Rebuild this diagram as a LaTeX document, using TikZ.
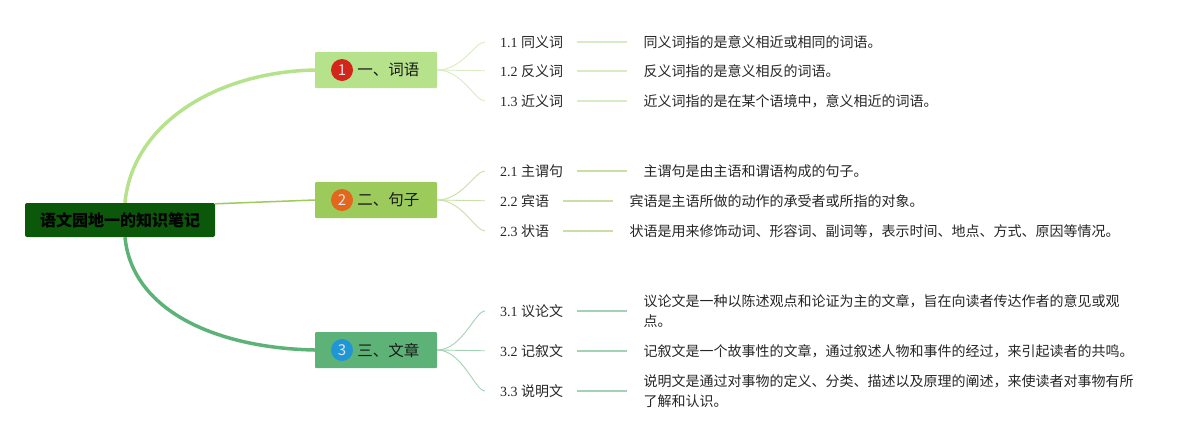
\documentclass[tikz,border=0pt]{standalone}
\usepackage{fontspec}
\setmainfont{Liberation Serif}
\newfontfamily\cjk{Noto Sans CJK SC}
\usetikzlibrary{positioning}
\definecolor{deep}{HTML}{0B580B}
\definecolor{pea}{HTML}{B6E28B}
\definecolor{peapale}{HTML}{D9EBC2}
\definecolor{moss}{HTML}{9CCB5C}
\definecolor{mosspale}{HTML}{C9DFA3}
\definecolor{jade}{HTML}{5DB377}
\definecolor{jadepale}{HTML}{A3D2B3}
\definecolor{dotred}{HTML}{D2261A}
\definecolor{dotorange}{HTML}{E2661C}
\definecolor{dotblue}{HTML}{2196D6}
\tikzset{
  rootbox/.style={fill=deep,rounded corners=2pt,minimum width=190pt,minimum height=34pt,
    font=\fontsize{16}{18}\selectfont\cjk\bfseries,text=black},
  branchbox/.style={rounded corners=1pt,minimum width=122pt,minimum height=36pt},
  numdot/.style={circle,minimum size=22pt,inner sep=0pt,text=white!90!black,
    font=\fontsize{15}{18}\selectfont\cjk},
  branchtext/.style={inner sep=0pt,font=\fontsize{15.5}{18}\selectfont\cjk,text=black!90},
  leaflabel/.style={inner sep=0pt,anchor=west,font=\fontsize{14}{17}\selectfont,text=black!85},
  leafdesc/.style={inner sep=0pt,anchor=west,align=left,right=80pt of #1,
    font=\fontsize{14}{20.5}\selectfont\cjk,text=black!85},
  twig/.style={line width=0.9pt,shorten >=15pt},
  stem/.style={line width=1.2pt,shorten <=14pt,shorten >=16pt}
}
\begin{document}
\begin{tikzpicture}[x=1pt,y=-1pt]
\useasboundingbox (0,0) rectangle (1204,440);
% the root
\node[rootbox] (root) at (120,220) {语文园地一的知识笔记};
% the three branches
\node[branchbox,fill=pea] (b1) at (376,70) {};
\node[numdot,fill=dotred] (n1) at ([xshift=-34pt]b1.center) {1};
\node[branchtext,right=4pt of n1] (t1) {一、词语};
\node[branchbox,fill=moss] (b2) at (376,200) {};
\node[numdot,fill=dotorange] (n2) at ([xshift=-34pt]b2.center) {2};
\node[branchtext,right=4pt of n2] (t2) {二、句子};
\node[branchbox,fill=jade] (b3) at (376,350) {};
\node[numdot,fill=dotblue] (n3) at ([xshift=-34pt]b3.center) {3};
\node[branchtext,right=4pt of n3] (t3) {三、文章};
\draw[pea,line width=3.5pt] ([xshift=5pt]root.north) .. controls (132,125) and (215,72) .. (b1.west);
\draw[moss,line width=1.5pt] ([yshift=-1pt]root.north east) -- (b2.west);
\draw[jade,line width=3.5pt] ([xshift=5pt]root.south) .. controls (132,310) and (215,348) .. (b3.west);
% group 1: words
\node[leaflabel] (l11) at (500,42) {1.1 {\cjk 同义词}};
\node[leaflabel] (l12) at (500,71) {1.2 {\cjk 反义词}};
\node[leaflabel] (l13) at (500,101) {1.3 {\cjk 近义词}};
\node[leafdesc=l11] (d11) {同义词指的是意义相近或相同的词语。};
\node[leafdesc=l12] (d12) {反义词指的是意义相反的词语。};
\node[leafdesc=l13] (d13) {近义词指的是在某个语境中，意义相近的词语。};
\draw[twig,peapale] (b1.east) .. controls +(25,0) and +(-25,0) .. (l11.west);
\draw[twig,peapale] (b1.east) -- (l12.west);
\draw[twig,peapale] (b1.east) .. controls +(25,0) and +(-25,0) .. (l13.west);
\draw[stem,peapale] (l11) -- (d11);
\draw[stem,peapale] (l12) -- (d12);
\draw[stem,peapale] (l13) -- (d13);
% group 2: sentences
\node[leaflabel] (l21) at (500,171) {2.1 {\cjk 主谓句}};
\node[leaflabel] (l22) at (500,201) {2.2 {\cjk 宾语}};
\node[leaflabel] (l23) at (500,231) {2.3 {\cjk 状语}};
\node[leafdesc=l21] (d21) {主谓句是由主语和谓语构成的句子。};
\node[leafdesc=l22] (d22) {宾语是主语所做的动作的承受者或所指的对象。};
\node[leafdesc=l23] (d23) {状语是用来修饰动词、形容词、副词等，表示时间、地点、方式、原因等情况。};
\draw[twig,mosspale] (b2.east) .. controls +(25,0) and +(-25,0) .. (l21.west);
\draw[twig,mosspale] (b2.east) -- (l22.west);
\draw[twig,mosspale] (b2.east) .. controls +(25,0) and +(-25,0) .. (l23.west);
\draw[stem,mosspale] (l21) -- (d21);
\draw[stem,mosspale] (l22) -- (d22);
\draw[stem,mosspale] (l23) -- (d23);
% group 3: texts
\node[leaflabel] (l31) at (500,311) {3.1 {\cjk 议论文}};
\node[leaflabel] (l32) at (500,351) {3.2 {\cjk 记叙文}};
\node[leaflabel] (l33) at (500,391) {3.3 {\cjk 说明文}};
\node[leafdesc=l31] (d31) {议论文是一种以陈述观点和论证为主的文章，旨在向读者传达作者的意见或观\\点。};
\node[leafdesc=l32] (d32) {记叙文是一个故事性的文章，通过叙述人物和事件的经过，来引起读者的共鸣。};
\node[leafdesc=l33] (d33) {说明文是通过对事物的定义、分类、描述以及原理的阐述，来使读者对事物有所\\了解和认识。};
\draw[twig,jadepale] (b3.east) .. controls +(25,0) and +(-25,0) .. (l31.west);
\draw[twig,jadepale] (b3.east) -- (l32.west);
\draw[twig,jadepale] (b3.east) .. controls +(25,0) and +(-25,0) .. (l33.west);
\draw[stem,jadepale] (l31) -- (d31.west);
\draw[stem,jadepale] (l32) -- (d32);
\draw[stem,jadepale] (l33) -- (d33.west);
\end{tikzpicture}
\end{document}
